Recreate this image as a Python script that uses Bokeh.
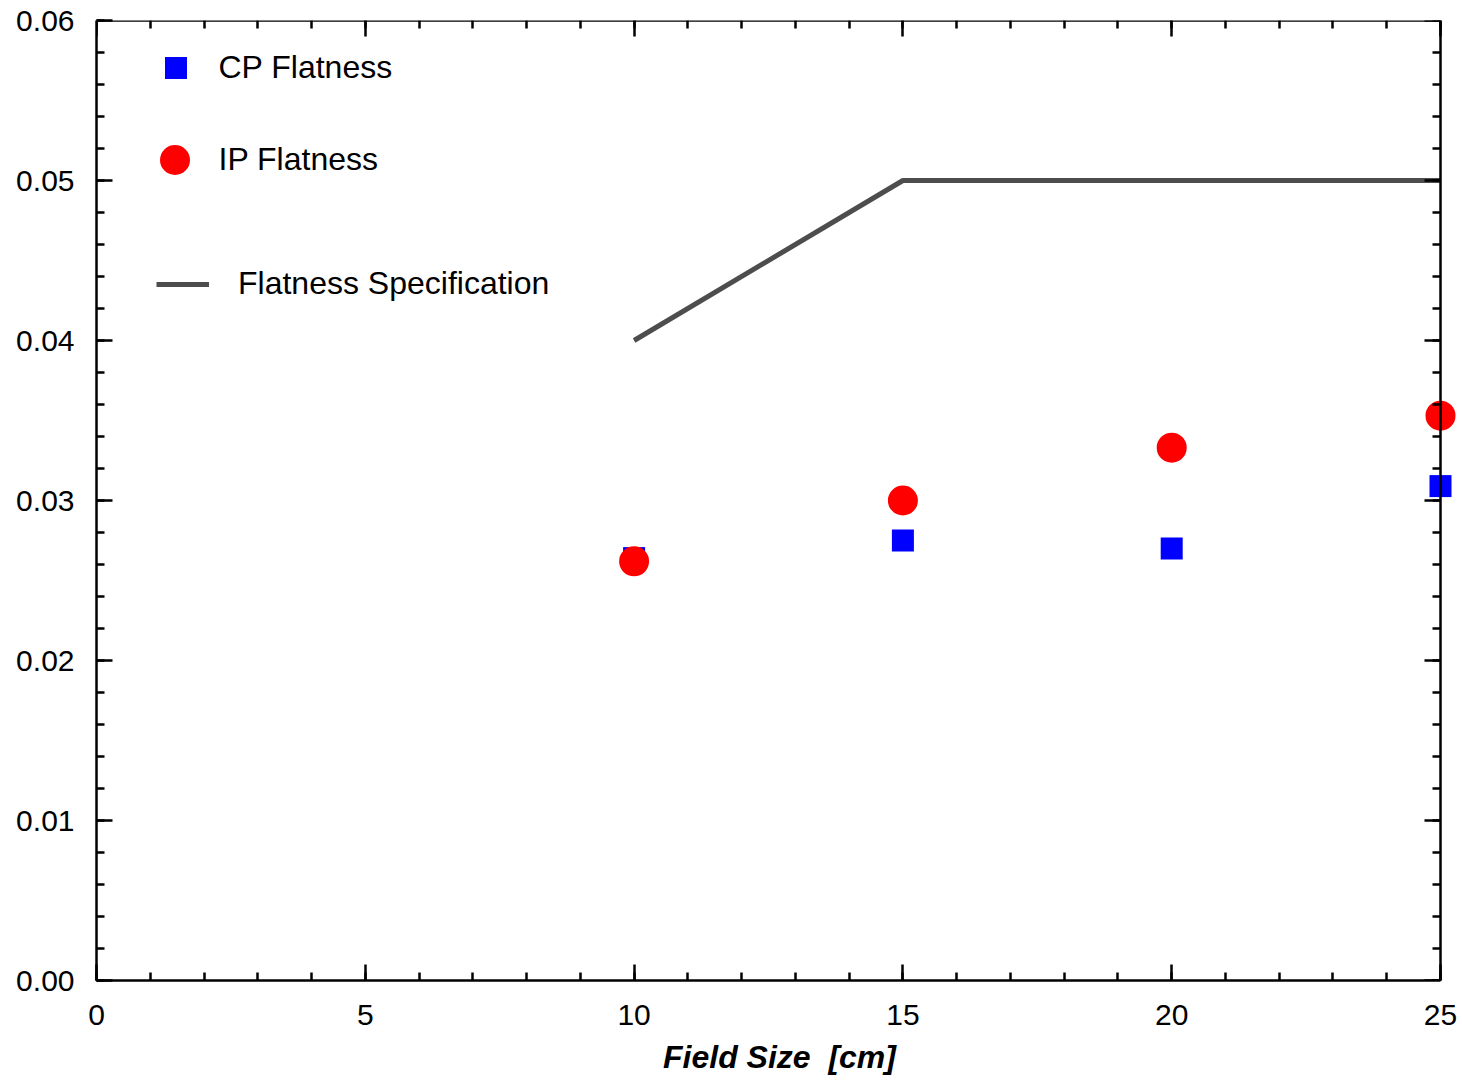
from bokeh.plotting import figure
from bokeh.models import (Range1d, LinearAxis, FixedTicker, PrintfTickFormatter,
                          CustomJSTickFormatter, Legend, LegendItem)
from bokeh.embed import file_html
from bokeh.resources import INLINE

# ---- data ----
field_size = [10, 15, 20, 25]
cp_flatness = [0.0264, 0.0275, 0.0270, 0.0309]
ip_flatness = [0.0262, 0.0300, 0.0333, 0.0353]
spec_x = [10, 15, 20, 25]
spec_y = [0.040, 0.050, 0.050, 0.050]

x_major = [0, 5, 10, 15, 20, 25]
x_minor = list(range(0, 26))
y_major = [0.00, 0.01, 0.02, 0.03, 0.04, 0.05, 0.06]
y_minor = [round(i * 0.002, 3) for i in range(31)]

title_text = "Beam Flatness"
x_label = "Field Size \u00a0[cm]"

# ---- layout (canvas is shifted 8px up/left by the negative margin) ----
W, H = 1470, 1089
left, top, bottom = 104, 28, 101
frame_w = W - left
x_end = 25 * frame_w / 1344.0

FONT = "Liberation Sans"

p = figure(width=W, height=H, output_backend="svg", toolbar_location=None,
           x_range=Range1d(0, x_end), y_range=Range1d(0, 0.06),
           min_border_left=left, min_border_top=top, min_border_bottom=bottom,
           min_border_right=0, x_axis_location=None, y_axis_location=None,
           margin=(-8, -16, -16, -8))
p.outline_line_color = None
p.xgrid.visible = False
p.ygrid.visible = False
p.background_fill_color = "white"
p.border_fill_color = "white"


def style(ax):
    ax.axis_line_color = "black"
    ax.axis_line_width = 2.5
    ax.major_tick_line_color = "black"
    ax.major_tick_line_width = 2.5
    ax.minor_tick_line_color = "black"
    ax.minor_tick_line_width = 2.5
    ax.major_tick_in = 16
    ax.major_tick_out = 0
    ax.minor_tick_in = 8
    ax.minor_tick_out = 0
    ax.major_label_text_font = FONT
    ax.major_label_text_font_size = "30px"
    ax.major_label_text_color = "black"


xt = FixedTicker(ticks=x_major, minor_ticks=x_minor)
yt = FixedTicker(ticks=y_major, minor_ticks=y_minor)
blank = CustomJSTickFormatter(code="return ''")

bx = LinearAxis(ticker=xt, bounds=(0, 25), axis_label=x_label)
style(bx)
bx.major_label_standoff = 24
bx.axis_label_standoff = 11
bx.axis_label_text_font = FONT
bx.axis_label_text_font_style = "bold italic"
bx.axis_label_text_font_size = "32px"
bx.axis_label_text_color = "black"
p.add_layout(bx, "below")

tx = LinearAxis(ticker=xt, bounds=(0, 25), fixed_location=0.06, formatter=blank)
style(tx)
p.add_layout(tx, "above")

ly = LinearAxis(ticker=yt, formatter=PrintfTickFormatter(format="%.2f"))
style(ly)
ly.major_label_standoff = 22
p.add_layout(ly, "left")

ry = LinearAxis(ticker=yt, fixed_location=25, formatter=blank)
style(ry)
p.add_layout(ry, "right")

# title (cut off at the top edge, as in the reference)
ttl = LinearAxis(ticker=FixedTicker(ticks=[], minor_ticks=[]), fixed_location=0.06,
                 bounds=(0, 24.54), axis_label=title_text)
ttl.axis_line_color = None
ttl.major_tick_line_color = None
ttl.minor_tick_line_color = None
ttl.major_tick_out = 0
ttl.major_tick_in = 0
ttl.major_label_standoff = 0
ttl.axis_label_standoff = 3
ttl.axis_label_text_font = FONT
ttl.axis_label_text_font_style = "bold italic"
ttl.axis_label_text_font_size = "58px"
ttl.axis_label_text_color = "black"
p.add_layout(ttl, "above")

# ---- glyphs ----
spec = p.line(spec_x, spec_y, line_color="#4d4d4d", line_width=5)
cp = p.scatter(field_size, cp_flatness, marker="square", size=22,
               fill_color="#0000ff", line_color=None)
ip = p.scatter(field_size, ip_flatness, marker="circle", size=30,
               fill_color="#ff0000", line_color=None)


def add_legend(label, rend, loc, gw, gh, standoff):
    lg = Legend(items=[LegendItem(label=label, renderers=[rend])], location=loc,
                glyph_width=gw, glyph_height=gh, label_standoff=standoff,
                padding=0, margin=0, spacing=0, border_line_color=None,
                background_fill_alpha=0, label_text_font=FONT,
                label_text_font_size="32px", label_text_color="black",
                label_height=gh)
    p.add_layout(lg)


add_legend("CP Flatness", cp, (51.5, 885.5), 55, 55, 16)
add_legend("IP Flatness", ip, (40.5, 783.5), 75, 75, 7)
add_legend("Flatness Specification", spec, (60, 678), 53, 30, 29)

open("out.html", "w").write(file_html(p, INLINE))
